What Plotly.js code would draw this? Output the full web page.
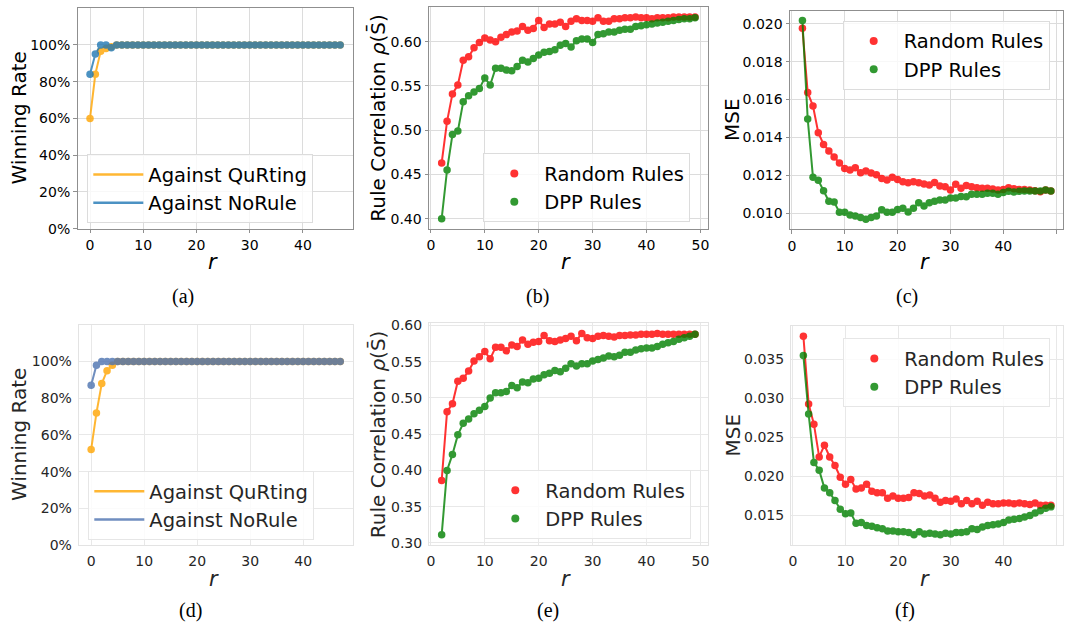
<!DOCTYPE html>
<html>
<head>
<meta charset="utf-8">
<script src="https://cdn.plot.ly/plotly-3.0.1.min.js"></script>
<style>html,body{margin:0;padding:0;background:#fff}#chart{width:1065px;height:631px}</style>
</head>
<body>
<div id="chart"></div>
<script>
// ---------- DATA ----------
const rWin = [0,1,2,3,4,5,6,7,8,9,10,11,12,13,14,15,16,17,18,19,20,21,22,23,24,25,26,27,28,29,30,31,32,33,34,35,36,37,38,39,40,41,42,43,44,45,46,47];
const rRule = [2,3,4,5,6,7,8,9,10,11,12,13,14,15,16,17,18,19,20,21,22,23,24,25,26,27,28,29,30,31,32,33,34,35,36,37,38,39,40,41,42,43,44,45,46,47,48,49];

// (a)
const aQuRting = [60,84,96.5,98,99,100,100,100,100,100,100,100,100,100,100,100,100,100,100,100,100,100,100,100,100,100,100,100,100,100,100,100,100,100,100,100,100,100,100,100,100,100,100,100,100,100,100,100];
const aNoRule  = [84,95,100,100,98.5,100,100,100,100,100,100,100,100,100,100,100,100,100,100,100,100,100,100,100,100,100,100,100,100,100,100,100,100,100,100,100,100,100,100,100,100,100,100,100,100,100,100,100];
// (b)
const bRandom = [0.463,0.510,0.541,0.551,0.579,0.583,0.593,0.599,0.604,0.602,0.600,0.605,0.608,0.611,0.612,0.617,0.613,0.615,0.624,0.616,0.620,0.620,0.622,0.617,0.623,0.626,0.624,0.624,0.623,0.627,0.623,0.623,0.626,0.626,0.627,0.627,0.628,0.627,0.627,0.626,0.627,0.627,0.627,0.628,0.628,0.628,0.628,0.628];
const bDPP    = [0.400,0.455,0.495,0.499,0.532,0.539,0.543,0.547,0.559,0.551,0.570,0.570,0.568,0.567,0.572,0.579,0.577,0.581,0.585,0.588,0.589,0.591,0.596,0.598,0.594,0.601,0.603,0.603,0.599,0.608,0.609,0.611,0.611,0.613,0.614,0.614,0.617,0.618,0.619,0.620,0.621,0.622,0.623,0.624,0.625,0.626,0.626,0.627];
// (c)
const cRandom = [0.01977,0.01637,0.01566,0.01425,0.01363,0.01328,0.01296,0.01265,0.01236,0.01228,0.01240,0.01213,0.01222,0.01212,0.01203,0.01183,0.01175,0.01189,0.01178,0.01166,0.01160,0.01166,0.01160,0.01153,0.01148,0.01162,0.01143,0.01139,0.01122,0.01152,0.01131,0.01145,0.01139,0.01134,0.01131,0.01131,0.01127,0.01122,0.01125,0.01134,0.01129,0.01125,0.01125,0.01122,0.01118,0.01113,0.01122,0.01116];
const cDPP    = [0.02018,0.01497,0.01189,0.01173,0.01118,0.01062,0.01058,0.01004,0.01004,0.00989,0.00984,0.00977,0.00967,0.00977,0.00984,0.01018,0.01004,0.01004,0.01019,0.01025,0.01005,0.01025,0.01055,0.01037,0.01055,0.01062,0.01069,0.01069,0.01079,0.01079,0.01088,0.01086,0.01100,0.01100,0.01100,0.01104,0.01104,0.01099,0.01108,0.01115,0.01111,0.01115,0.01116,0.01116,0.01116,0.01116,0.01122,0.01116];
// (d)
const dQuRting = [52,72,88,95,98,100,100,100,100,100,100,100,100,100,100,100,100,100,100,100,100,100,100,100,100,100,100,100,100,100,100,100,100,100,100,100,100,100,100,100,100,100,100,100,100,100,100,100];
const dNoRule  = [87,98,100,100,100,100,100,100,100,100,100,100,100,100,100,100,100,100,100,100,100,100,100,100,100,100,100,100,100,100,100,100,100,100,100,100,100,100,100,100,100,100,100,100,100,100,100,100];
// (e)
const eRandom = [0.386,0.481,0.492,0.523,0.527,0.537,0.551,0.557,0.564,0.554,0.570,0.570,0.565,0.573,0.571,0.580,0.574,0.577,0.578,0.586,0.579,0.578,0.580,0.582,0.585,0.579,0.589,0.583,0.582,0.585,0.586,0.585,0.584,0.586,0.586,0.587,0.587,0.588,0.588,0.588,0.589,0.588,0.588,0.588,0.588,0.588,0.588,0.588];
const eDPP    = [0.311,0.400,0.422,0.449,0.465,0.471,0.478,0.483,0.488,0.500,0.507,0.507,0.509,0.517,0.514,0.522,0.521,0.526,0.527,0.532,0.534,0.538,0.536,0.541,0.547,0.544,0.547,0.547,0.551,0.553,0.555,0.558,0.557,0.559,0.563,0.563,0.566,0.568,0.569,0.569,0.571,0.574,0.576,0.578,0.581,0.583,0.585,0.588];
// (f)
const fRandom = [0.0380,0.0293,0.0267,0.0225,0.0240,0.0225,0.0214,0.0199,0.0190,0.0196,0.0184,0.0185,0.0190,0.0181,0.0179,0.0179,0.0172,0.0175,0.0172,0.0172,0.0173,0.0179,0.0178,0.0175,0.0176,0.0172,0.0167,0.0169,0.0168,0.0171,0.0165,0.0169,0.0165,0.0168,0.0163,0.0167,0.0165,0.0165,0.0166,0.0166,0.0165,0.0166,0.0165,0.0164,0.0166,0.0163,0.0163,0.0163];
const fDPP    = [0.0355,0.0280,0.0218,0.0208,0.0185,0.0179,0.0169,0.0158,0.0152,0.0153,0.0140,0.0141,0.0137,0.0136,0.0134,0.0133,0.0130,0.0130,0.0129,0.0129,0.0128,0.0125,0.0129,0.0126,0.0127,0.0126,0.0125,0.0127,0.0126,0.0128,0.0128,0.0129,0.0133,0.0132,0.0135,0.0137,0.0138,0.0139,0.0141,0.0144,0.0145,0.0146,0.0148,0.0150,0.0153,0.0156,0.0159,0.0161];

const winTickVals = [0,20,40,60,80,100];
const winTickText = ['0%','20%','40%','60%','80%','100%'];
const rTickVals = [0,10,20,30,40,50];

const nameQ = 'Against QuRting', nameN = 'Against NoRule';
const nameR = 'Random Rules', nameD = 'DPP Rules';
const panelLabels = ['(a)','(b)','(c)','(d)','(e)','(f)'];
const yTitles = ['Winning Rate', 'Rule Correlation <i>ρ</i>(S\u0304)', 'MSE', 'Winning Rate', 'Rule Correlation <i>ρ</i>(S\u0304)', 'MSE'];
const xTitle = '<i>r</i>';

// ---------- LAYOUT HELPERS ----------
const W = 1065, H = 631;
const FONT = "'DejaVu Sans', sans-serif";
const xd = (a,b) => [a/W, b/W];
const yd = (top,bot) => [1 - bot/H, 1 - top/H];

const ORANGE = '#FFA500', BLUE1 = '#1f77b4', BLUE2 = '#4c72b0', RED = '#ff0000', GREEN = '#008000';

const traces = [];
function series(x, y, color, xa, ya) {
  traces.push({x, y, xaxis: xa, yaxis: ya, type: 'scatter', mode: 'lines+markers',
    line: {color, width: 2}, marker: {color, size: 7.5}, opacity: 0.8, showlegend: false, hoverinfo: 'skip'});
}
function legendItem(name, color, mode, leg) {
  const t = {x: [null], y: [null], type: 'scatter', mode, name, legend: leg, opacity: 0.8,
    showlegend: true, xaxis: 'x', yaxis: 'y'};
  if (mode === 'lines') t.line = {color, width: 2.5};
  else t.marker = {color, size: 8};
  traces.push(t);
}

series(rWin, aQuRting, ORANGE, 'x', 'y');
series(rWin, aNoRule, BLUE1, 'x', 'y');
series(rRule, bRandom, RED, 'x2', 'y2');
series(rRule, bDPP, GREEN, 'x2', 'y2');
series(rRule, cRandom, RED, 'x3', 'y3');
series(rRule, cDPP, GREEN, 'x3', 'y3');
series(rWin, dQuRting, ORANGE, 'x4', 'y4');
series(rWin, dNoRule, BLUE2, 'x4', 'y4');
series(rRule, eRandom, RED, 'x5', 'y5');
series(rRule, eDPP, GREEN, 'x5', 'y5');
series(rRule, fRandom, RED, 'x6', 'y6');
series(rRule, fDPP, GREEN, 'x6', 'y6');

legendItem(nameQ, ORANGE, 'lines', 'legend');
legendItem(nameN, BLUE1, 'lines', 'legend');
legendItem(nameR, RED, 'markers', 'legend2');
legendItem(nameD, GREEN, 'markers', 'legend2');
legendItem(nameR, RED, 'markers', 'legend3');
legendItem(nameD, GREEN, 'markers', 'legend3');
legendItem(nameQ, ORANGE, 'lines', 'legend4');
legendItem(nameN, BLUE2, 'lines', 'legend4');
legendItem(nameR, RED, 'markers', 'legend5');
legendItem(nameD, GREEN, 'markers', 'legend5');
legendItem(nameR, RED, 'markers', 'legend6');
legendItem(nameD, GREEN, 'markers', 'legend6');

function styleAx(top) {
  return top ? {
    showline: true, mirror: true, linecolor: '#8f8f8f', linewidth: 1,
    showgrid: true, gridcolor: '#dcdcdc', gridwidth: 1, zeroline: false,
    ticks: 'outside', ticklen: 3.5, tickcolor: '#8f8f8f',
    tickfont: {family: FONT, size: 14, color: '#000'}
  } : {
    showline: true, mirror: true, linecolor: '#e3e3e3', linewidth: 1,
    showgrid: true, gridcolor: '#e8e8e8', gridwidth: 1, zeroline: false,
    ticks: 'outside', ticklen: 3, tickcolor: 'rgba(0,0,0,0)',
    tickfont: {family: FONT, size: 14, color: '#262626'}
  };
}
function xAx(top, domain, range, anchor, tv) {
  return Object.assign(styleAx(top), {domain, range, anchor, tickmode: 'array', tickvals: tv});
}
function yAx(top, domain, range, anchor, extra) {
  return Object.assign(styleAx(top), {domain, range, anchor}, extra);
}
function leg(left, top, bottomRow) {
  return {x: left/W, y: 1 - top/H, xanchor: 'left', yanchor: 'top',
    bgcolor: 'rgba(255,255,255,0.8)', bordercolor: bottomRow ? '#e6e6e6' : '#dcdcdc', borderwidth: 1,
    font: {family: FONT, size: 19.5, color: bottomRow ? '#262626' : '#000'}, itemwidth: 50, tracegroupgap: 0};
}

// panel boxes in px: [left, right, top, bottom]
const boxes = [
  [77.5, 352.7, 8.3, 228.7], [429, 707.7, 6.7, 228.7], [790, 1063.3, 10.7, 229.3],
  [78.7, 352.7, 325, 545], [429, 707.7, 323.3, 545], [791, 1063.3, 326, 545]
];
const yTitleX = [18, 378, 732, 19, 378, 732];
const xTitleY = [262, 262, 262, 579, 579, 579];
const labelPos = [[183, 297], [537, 297], [907, 297], [190, 610], [548, 610], [905, 610]];

const annotations = [];
boxes.forEach((b, i) => {
  const col = i < 3 ? '#000' : '#262626';
  annotations.push({text: yTitles[i], textangle: -90, x: yTitleX[i]/W, y: 1 - ((b[2]+b[3])/2)/H,
    xref: 'paper', yref: 'paper', xanchor: 'center', yanchor: 'middle', showarrow: false,
    font: {family: FONT, size: 20, color: col}});
  annotations.push({text: xTitle, x: ((b[0]+b[1])/2 - 2)/W, y: 1 - xTitleY[i]/H,
    xref: 'paper', yref: 'paper', xanchor: 'center', yanchor: 'middle', showarrow: false,
    font: {family: FONT, size: 21, color: col}});
  annotations.push({text: panelLabels[i], x: labelPos[i][0]/W, y: 1 - labelPos[i][1]/H,
    xref: 'paper', yref: 'paper', xanchor: 'center', yanchor: 'middle', showarrow: false,
    font: {family: "'Liberation Serif', 'Times New Roman', serif", size: 20, color: '#000'}});
});

const layout = {
  width: W, height: H, margin: {l: 0, r: 0, t: 0, b: 0},
  paper_bgcolor: '#fff', plot_bgcolor: '#fff', font: {family: FONT},
  xaxis:  xAx(true,  xd(boxes[0][0], boxes[0][1]), [-2.35, 49.35], 'y',  [0,10,20,30,40]),
  yaxis:  yAx(true,  yd(boxes[0][2], boxes[0][3]), [0, 119.9], 'x', {tickmode: 'array', tickvals: winTickVals, ticktext: winTickText}),
  xaxis2: xAx(true,  xd(boxes[1][0], boxes[1][1]), [-0.35, 51.35], 'y2', rTickVals),
  yaxis2: yAx(true,  yd(boxes[1][2], boxes[1][3]), [0.3887, 0.6395], 'x2', {dtick: 0.05, tick0: 0.4, tickformat: '.2f'}),
  xaxis3: xAx(true,  xd(boxes[2][0], boxes[2][1]), [-0.35, 51.35], 'y3', rTickVals),
  yaxis3: yAx(true,  yd(boxes[2][2], boxes[2][3]), [0.00914, 0.0207], 'x3', {dtick: 0.002, tick0: 0.01, tickformat: '.3f'}),
  xaxis4: xAx(false, xd(boxes[3][0], boxes[3][1]), [-2.35, 49.35], 'y4', [0,10,20,30,40]),
  yaxis4: yAx(false, yd(boxes[3][2], boxes[3][3]), [0, 119.9], 'x4', {tickmode: 'array', tickvals: winTickVals, ticktext: winTickText}),
  xaxis5: xAx(false, xd(boxes[4][0], boxes[4][1]), [-0.35, 51.35], 'y5', rTickVals),
  yaxis5: yAx(false, yd(boxes[4][2], boxes[4][3]), [0.297, 0.603], 'x5', {dtick: 0.05, tick0: 0.3, tickformat: '.2f'}),
  xaxis6: xAx(false, xd(boxes[5][0], boxes[5][1]), [-0.35, 51.35], 'y6', rTickVals),
  yaxis6: yAx(false, yd(boxes[5][2], boxes[5][3]), [0.0112, 0.0393], 'x6', {dtick: 0.005, tick0: 0.015, tickformat: '.3f'}),
  legend:  leg(87.3, 154.3, false),
  legend2: leg(483.3, 153.3, false),
  legend3: leg(842.7, 20.7, false),
  legend4: leg(88.3, 471, true),
  legend5: leg(484.3, 470, true),
  legend6: leg(843.3, 338.3, true),
  annotations
};

Plotly.newPlot('chart', traces, layout, {staticPlot: true, displayModeBar: false});
</script>
</body>
</html>
